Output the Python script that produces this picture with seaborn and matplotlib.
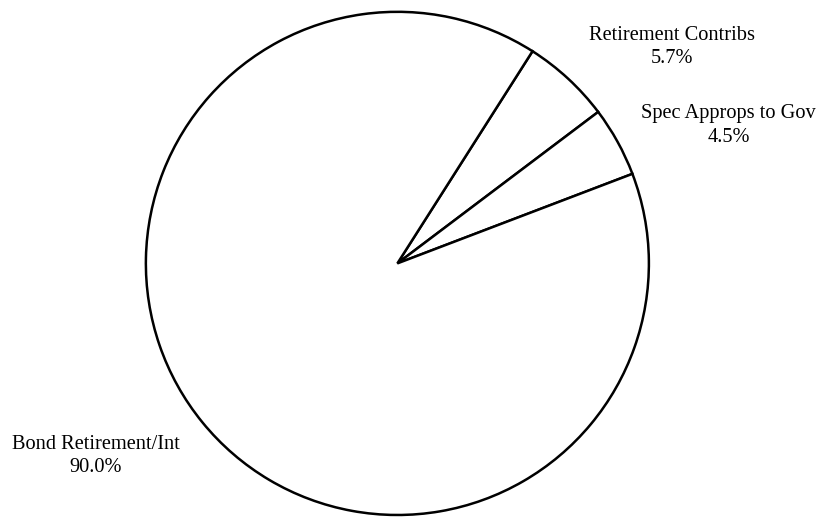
import matplotlib
matplotlib.use("Agg")
import matplotlib.pyplot as plt
import seaborn as sns

# Debt service spending by category (percent of total)
categories = ["Retirement Contribs", "Spec Approps to Gov", "Bond Retirement/Int"]
shares = [5.7, 4.5, 90.0]

# Label anchor points, in units of the pie radius from its centre
label_x = [1.092, 1.317, -1.198]
label_y = [0.860, 0.548, -0.766]

sns.set_style("white")
plt.rcParams["font.family"] = ["Liberation Serif", "DejaVu Serif"]

fig = plt.figure(figsize=(8.35, 5.17), dpi=100)
ax = fig.add_axes([0, 0, 1, 1])

ax.pie(
    shares,
    startangle=57.5,
    counterclock=False,
    colors=["white"] * len(shares),
    wedgeprops=dict(edgecolor="black", linewidth=1.8),
    radius=1.0,
    center=(0, 0),
)

for name, val, lx, ly in zip(categories, shares, label_x, label_y):
    ax.text(lx, ly, f"{name}\n{val:.1f}%", ha="center", va="center",
            fontsize=14.7, color="black", linespacing=1.3)

ax.set_xlim(-1.580, 1.740)
ax.set_ylim(-1.008, 1.047)
ax.set_aspect("auto")
ax.axis("off")

fig.savefig("out.png", dpi=100, facecolor="white")
